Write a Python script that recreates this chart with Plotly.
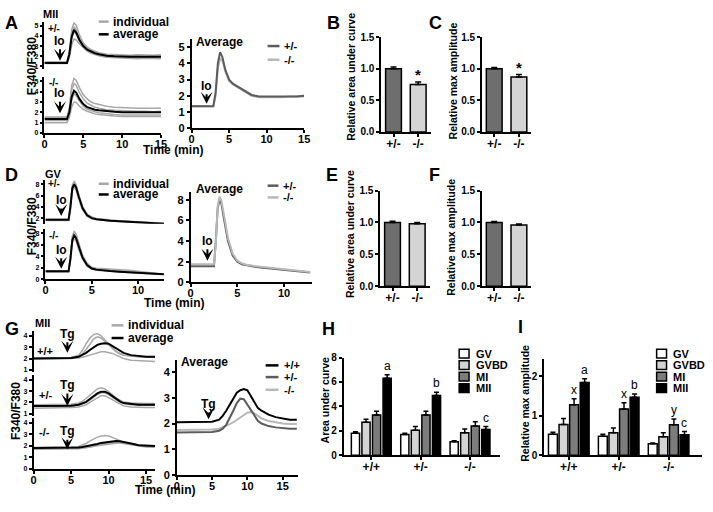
import plotly.graph_objects as go

W, H = 713, 512
FONT = "Liberation Sans"

# ---------------- data: panel A (MII, ionomycin) ----------------
tA = [0, 1, 2, 2.9, 3.2, 3.5, 3.8, 4.1, 4.5, 5, 5.5, 6, 6.5, 7, 8, 9, 10, 11, 12, 13, 14, 15]
A_het_avg = [1.35, 1.35, 1.35, 1.35, 2.2, 3.9, 4.6, 4.3, 3.6, 3.0, 2.65, 2.45, 2.3, 2.2, 2.05, 2.0, 1.95, 1.95, 1.95, 1.95, 1.95, 1.95]
A_het_ind = [
    [1.45, 1.45, 1.45, 1.45, 2.5, 4.6, 5.3, 5.0, 4.1, 3.3, 2.9, 2.65, 2.5, 2.35, 2.2, 2.15, 2.1, 2.1, 2.15, 2.1, 2.1, 2.15],
    [1.3, 1.3, 1.3, 1.3, 1.9, 3.1, 3.7, 3.6, 3.2, 2.8, 2.5, 2.3, 2.15, 2.05, 1.9, 1.85, 1.8, 1.8, 1.75, 1.8, 1.75, 1.75],
    [1.35, 1.4, 1.35, 1.35, 2.3, 4.2, 4.9, 4.6, 3.8, 3.1, 2.75, 2.5, 2.35, 2.25, 2.1, 2.05, 2.0, 2.0, 2.0, 1.95, 2.0, 2.0],
    [1.4, 1.4, 1.4, 1.45, 2.1, 3.8, 4.4, 4.2, 3.5, 2.95, 2.6, 2.4, 2.25, 2.15, 2.0, 1.95, 1.9, 1.9, 1.9, 1.9, 1.85, 1.9],
]
A_ko_avg = [1.35, 1.35, 1.35, 1.35, 2.0, 3.5, 4.1, 3.9, 3.3, 2.8, 2.5, 2.35, 2.25, 2.2, 2.1, 2.05, 2.0, 2.0, 2.0, 2.0, 2.0, 2.0]
A_ko_ind = [
    [1.55, 1.55, 1.55, 1.55, 2.4, 4.6, 5.3, 5.1, 4.4, 3.7, 3.3, 3.0, 2.85, 2.75, 2.6, 2.5, 2.45, 2.4, 2.4, 2.4, 2.4, 2.4],
    [1.5, 1.5, 1.5, 1.5, 2.3, 4.2, 4.8, 4.6, 3.9, 3.3, 2.9, 2.7, 2.5, 2.4, 2.25, 2.2, 2.15, 2.1, 2.1, 2.1, 2.05, 2.1],
    [1.0, 1.0, 1.0, 1.0, 1.5, 2.5, 3.0, 2.95, 2.6, 2.3, 2.1, 1.95, 1.85, 1.8, 1.7, 1.65, 1.6, 1.6, 1.6, 1.6, 1.55, 1.6],
    [1.2, 1.2, 1.2, 1.2, 1.8, 3.2, 3.8, 3.6, 3.1, 2.6, 2.3, 2.15, 2.05, 1.95, 1.85, 1.8, 1.75, 1.75, 1.75, 1.75, 1.7, 1.75],
]
A_mean_het = [1.35, 1.35, 1.35, 1.35, 2.2, 4.0, 4.7, 4.4, 3.6, 3.0, 2.75, 2.6, 2.45, 2.3, 2.05, 1.95, 1.95, 1.95, 1.95, 1.95, 1.95, 2.0]
A_mean_ko = [1.35, 1.35, 1.35, 1.35, 2.0, 3.7, 4.3, 4.2, 3.5, 2.9, 2.7, 2.55, 2.4, 2.25, 2.0, 1.9, 1.9, 1.9, 1.9, 1.95, 1.95, 1.95]

# ---------------- data: panel D (GV, ionomycin) ----------------
tD = [0, 1, 2, 2.5, 2.7, 2.9, 3.1, 3.3, 3.6, 4.0, 4.5, 5, 5.5, 6, 7, 8, 9, 10, 11, 12, 12.8]
D_het_avg = [1.7, 1.7, 1.7, 1.7, 4.0, 7.3, 8.0, 7.5, 5.8, 3.8, 2.5, 2.0, 1.8, 1.7, 1.55, 1.45, 1.35, 1.25, 1.15, 1.05, 1.0]
D_het_ind = [
    [1.8, 1.8, 1.8, 1.8, 4.6, 7.9, 8.5, 8.0, 6.2, 4.1, 2.7, 2.2, 1.95, 1.85, 1.7, 1.55, 1.45, 1.35, 1.25, 1.15, 1.1],
    [1.6, 1.6, 1.6, 1.6, 3.5, 6.8, 7.5, 7.0, 5.4, 3.5, 2.3, 1.9, 1.75, 1.65, 1.5, 1.4, 1.3, 1.2, 1.1, 1.0, 0.95],
    [1.7, 1.75, 1.7, 1.7, 4.2, 7.5, 8.2, 7.7, 6.0, 3.9, 2.6, 2.1, 1.85, 1.75, 1.6, 1.5, 1.4, 1.3, 1.2, 1.1, 1.05],
]
D_ko_avg = [1.4, 1.4, 1.4, 1.4, 3.6, 6.8, 7.6, 7.2, 5.7, 3.8, 2.5, 1.9, 1.7, 1.6, 1.45, 1.35, 1.25, 1.15, 1.05, 0.95, 0.9]
D_ko_ind = [
    [1.5, 1.5, 1.5, 1.5, 4.2, 7.5, 8.3, 7.9, 6.3, 4.2, 2.8, 2.1, 1.95, 1.9, 1.85, 1.8, 1.6, 1.4, 1.2, 1.05, 1.0],
    [1.3, 1.3, 1.3, 1.3, 3.2, 6.3, 7.0, 6.7, 5.2, 3.5, 2.3, 1.8, 1.6, 1.5, 1.4, 1.3, 1.2, 1.1, 1.0, 0.9, 0.85],
    [1.4, 1.45, 1.4, 1.4, 3.8, 7.1, 7.9, 7.5, 6.0, 4.0, 2.6, 2.0, 1.8, 1.75, 1.65, 1.55, 1.4, 1.25, 1.1, 1.0, 0.95],
]
D_mean_het = [1.55, 1.55, 1.55, 1.55, 4.0, 7.2, 8.0, 7.6, 6.0, 4.0, 2.6, 2.0, 1.75, 1.65, 1.5, 1.4, 1.3, 1.2, 1.1, 1.0, 0.95]
D_mean_ko = [1.75, 1.75, 1.75, 1.75, 3.8, 7.4, 8.3, 7.9, 6.4, 4.3, 2.8, 2.1, 1.85, 1.7, 1.55, 1.45, 1.35, 1.25, 1.15, 1.05, 1.0]

# ---------------- data: panel G (MII, thapsigargin) ----------------
tG = [0, 1, 2, 3, 4, 5, 6, 6.5, 7, 7.5, 8, 8.5, 9, 9.5, 10, 10.5, 11, 11.5, 12, 13, 14, 15, 16.2]
G_wt_avg = [2.0, 2.0, 2.0, 2.0, 2.0, 2.05, 2.15, 2.3, 2.5, 2.75, 3.0, 3.2, 3.3, 3.35, 3.3, 3.1, 2.9, 2.7, 2.5, 2.3, 2.2, 2.15, 2.15]
G_wt_ind = [
    [2.05, 2.05, 2.05, 2.05, 2.05, 2.1, 2.3, 2.7, 3.3, 3.8, 4.1, 4.2, 4.0, 3.6, 3.2, 2.9, 2.6, 2.4, 2.3, 2.2, 2.15, 2.15, 2.15],
    [2.0, 2.0, 2.0, 2.0, 2.0, 2.05, 2.2, 2.4, 2.8, 3.3, 3.7, 3.9, 3.8, 3.5, 3.2, 2.9, 2.65, 2.45, 2.3, 2.2, 2.15, 2.1, 2.1],
    [1.95, 1.95, 1.95, 1.95, 1.95, 2.0, 2.05, 2.1, 2.2, 2.3, 2.4, 2.5, 2.6, 2.6, 2.55, 2.45, 2.3, 2.15, 2.0, 1.85, 1.8, 1.75, 1.75],
]
G_het_avg = [1.7, 1.7, 1.7, 1.7, 1.7, 1.72, 1.8, 1.9, 2.05, 2.3, 2.55, 2.8, 2.95, 2.95, 2.8, 2.55, 2.3, 2.1, 1.95, 1.85, 1.8, 1.8, 1.8]
G_het_ind = [
    [1.8, 1.8, 1.8, 1.8, 1.8, 1.85, 1.95, 2.1, 2.35, 2.65, 2.95, 3.2, 3.3, 3.2, 2.95, 2.65, 2.4, 2.2, 2.05, 1.95, 1.9, 1.9, 1.9],
    [1.5, 1.5, 1.5, 1.5, 1.5, 1.55, 1.6, 1.7, 1.8, 2.0, 2.2, 2.45, 2.6, 2.6, 2.45, 2.25, 2.05, 1.85, 1.7, 1.6, 1.55, 1.55, 1.55],
    [1.65, 1.65, 1.65, 1.65, 1.65, 1.7, 1.75, 1.85, 2.0, 2.2, 2.45, 2.7, 2.85, 2.85, 2.7, 2.45, 2.25, 2.05, 1.9, 1.8, 1.75, 1.75, 1.75],
]
G_ko_avg = [1.8, 1.8, 1.8, 1.8, 1.8, 1.82, 1.85, 1.9, 1.95, 2.0, 2.08, 2.15, 2.25, 2.3, 2.35, 2.4, 2.42, 2.4, 2.35, 2.2, 2.05, 2.0, 1.98]
G_ko_ind = [
    [1.85, 1.85, 1.85, 1.85, 1.85, 1.9, 1.95, 2.05, 2.2, 2.4, 2.6, 2.75, 2.85, 2.9, 2.85, 2.75, 2.6, 2.45, 2.3, 2.15, 2.05, 2.0, 2.0],
    [1.75, 1.75, 1.75, 1.75, 1.75, 1.78, 1.8, 1.82, 1.85, 1.9, 1.95, 2.0, 2.05, 2.1, 2.15, 2.2, 2.25, 2.3, 2.3, 2.2, 2.05, 1.95, 1.9],
    [1.7, 1.7, 1.7, 1.7, 1.7, 1.72, 1.75, 1.78, 1.82, 1.88, 1.95, 2.05, 2.15, 2.2, 2.25, 2.3, 2.3, 2.25, 2.2, 2.05, 1.95, 1.9, 1.9],
]
tGa = [0, 1, 2, 3, 4, 5, 6, 6.5, 7, 7.5, 8, 8.5, 9, 9.5, 10, 10.5, 11, 11.5, 12, 13, 14, 15, 16, 17]
G_mean_wt = [2.05, 2.05, 2.05, 2.05, 2.05, 2.07, 2.15, 2.3, 2.5, 2.75, 3.0, 3.2, 3.3, 3.35, 3.3, 3.05, 2.8, 2.6, 2.5, 2.35, 2.25, 2.2, 2.15, 2.15]
G_mean_het = [1.65, 1.65, 1.65, 1.65, 1.65, 1.67, 1.72, 1.8, 1.95, 2.2, 2.5, 2.8, 2.97, 2.95, 2.75, 2.5, 2.3, 2.1, 2.0, 1.9, 1.85, 1.82, 1.8, 1.8]
G_mean_ko = [1.75, 1.75, 1.75, 1.75, 1.75, 1.77, 1.8, 1.85, 1.9, 1.98, 2.05, 2.15, 2.25, 2.35, 2.42, 2.45, 2.4, 2.3, 2.2, 2.1, 2.05, 2.0, 1.98, 1.98]

# ---------------- data: bar panels ----------------
geno2 = ["+/-", "-/-"]
B_vals, B_err, B_sig = [1.0, 0.75], [0.03, 0.04], ["", "*"]
C_vals, C_err, C_sig = [1.0, 0.87], [0.02, 0.04], ["", "*"]
E_vals, E_err = [1.0, 0.98], [0.02, 0.02]
F_vals, F_err = [1.0, 0.96], [0.015, 0.015]

geno3 = ["+/+", "+/-", "-/-"]
stages = ["GV", "GVBD", "MI", "MII"]
H_vals = [[1.8, 1.7, 1.1], [2.7, 2.05, 1.85], [3.3, 3.3, 2.4], [6.3, 4.9, 2.1]]
H_err = [[0.12, 0.1, 0.08], [0.25, 0.3, 0.3], [0.3, 0.3, 0.35], [0.3, 0.25, 0.25]]
H_sig = [["", "", ""], ["", "", ""], ["", "", ""], ["a", "b", "c"]]
I_vals = [[0.53, 0.48, 0.29], [0.78, 0.57, 0.47], [1.28, 1.17, 0.77], [1.84, 1.47, 0.52]]
I_err = [[0.05, 0.05, 0.02], [0.15, 0.12, 0.1], [0.15, 0.16, 0.15], [0.1, 0.08, 0.08]]
I_sig = [["", "", ""], ["", "", ""], ["x", "x", "y"], ["a", "b", "c"]]

# ---------------- styles ----------------
IND = "#a8a8a8"
AVG = "black"
DARK = "#5c5c5c"
LIGHT = "#b8b8b8"
BAR2 = ["#6e6e6e", "#d4d4d4"]
STAGE_COL = ["white", "#d4d4d4", "#7c7c7c", "black"]

fig = go.Figure()
layout = dict(width=W, height=H, margin=dict(l=0, r=0, t=0, b=0),
              paper_bgcolor="white", plot_bgcolor="white", showlegend=False,
              barmode="overlay", font=dict(family=FONT, color="black"))
annotations = []
shapes = []


def px(x):
    return x / W


def py(y):
    return 1 - y / H


_n = [0]


def axis(d, rng, anchor, show, tickvals=None, size=10, ticktext=None, fmt=None, is_x=False):
    a = dict(domain=d, range=rng, anchor=anchor, showgrid=False, zeroline=False, fixedrange=True)
    if not show:
        a.update(showline=False, showticklabels=False, ticks="")
        return a
    a.update(showline=True, linecolor="black", linewidth=1.5, ticks="outside", ticklen=3,
             tickwidth=1.5, tickcolor="black", tickvals=tickvals,
             tickfont=dict(family=FONT, size=size, color="black", weight="bold"))
    if is_x:
        a["ticklabelstandoff"] = -3
    if ticktext is not None:
        a["ticktext"] = ticktext
    if fmt:
        a["tickformat"] = fmt
    return a


def new_axes(xpx, ypx, xr, yr, xshow=True, xt=None, yt=None, xs=10, ys=10, xtt=None, ytt=None, yfmt=None):
    _n[0] += 1
    i = _n[0]
    s = "" if i == 1 else str(i)
    layout["xaxis" + s] = axis([px(xpx[0]), px(xpx[1])], xr, "y" + s, xshow, xt, xs, xtt, is_x=True)
    layout["yaxis" + s] = axis([py(ypx[1]), py(ypx[0])], yr, "x" + s, True, yt, ys, ytt, yfmt)
    return "x" + s, "y" + s


def line(xa, ya, t, v, color, width=1.5):
    fig.add_trace(go.Scatter(x=t, y=v, mode="lines", line=dict(color=color, width=width),
                             xaxis=xa, yaxis=ya, hoverinfo="skip"))


def text(x, y, s, size=12, bold=True, xanchor="center", angle=0):
    annotations.append(dict(x=px(x), y=py(y), xref="paper", yref="paper", text=s, showarrow=False,
                            xanchor=xanchor, yanchor="middle", textangle=angle,
                            font=dict(family=FONT, size=size, color="black",
                                      weight="bold" if bold else "normal")))


def arrow(xa, ya, x, y, label, ay):
    annotations.append(dict(x=x, y=y, xref=xa, yref=ya, text=label, showarrow=True, ax=0, ay=ay,
                            arrowhead=3, arrowsize=1, arrowwidth=2, arrowcolor="black", standoff=0,
                            font=dict(family=FONT, size=12, color="black", weight="bold")))


def swatch_line(x0, x1, y, color, width=2.5):
    shapes.append(dict(type="line", xref="paper", yref="paper", x0=px(x0), x1=px(x1), y0=py(y), y1=py(y),
                       line=dict(color=color, width=width)))


def swatch_box(x0, y0, x1, y1, color):
    shapes.append(dict(type="rect", xref="paper", yref="paper", x0=px(x0), x1=px(x1), y0=py(y1), y1=py(y0),
                       fillcolor=color, line=dict(color="black", width=1.5)))


# ---------------- panel A ----------------
xa, ya = new_axes((42, 160), (16, 64), [0, 15], [0.8, 5.4], xshow=False, yt=[1, 2, 3, 4, 5], ys=7)
for v in A_het_ind:
    line(xa, ya, tA, v, IND)
line(xa, ya, tA, A_het_avg, AVG, 2)
arrow(xa, ya, 2, 1.55, "Io", -20)
xa, ya = new_axes((42, 160), (73, 130), [0, 15], [0, 5.4], xt=[0, 5, 10, 15], yt=[0, 1, 2, 3, 4, 5], xs=11, ys=7)
for v in A_ko_ind:
    line(xa, ya, tA, v, IND)
line(xa, ya, tA, A_ko_avg, AVG, 2)
arrow(xa, ya, 2, 1.9, "Io", -20)
xa, ya = new_axes((191, 305), (34, 125), [0, 15], [0, 5.5], xt=[0, 5, 10, 15], yt=[0, 1, 2, 3, 4, 5], xs=11, ys=11)
line(xa, ya, tA, A_mean_ko, LIGHT, 2)
line(xa, ya, tA, A_mean_het, DARK, 2)
arrow(xa, ya, 2, 1.5, "Io", -18)

text(9, 17, "A", 18)
text(48, 8, "MII", 11)
text(52, 23, "+/-", 10)
text(51, 78, "-/-", 10)
text(29, 62, "F340/F380", 12, angle=-90)
text(172, 147, "Time (min)", 12)
swatch_line(97, 107, 16, IND)
text(109, 16, "individual", 12, xanchor="left")
swatch_line(97, 107, 29, AVG)
text(109, 29, "average", 12, xanchor="left")
text(193, 37, "Average", 12, xanchor="left")
swatch_line(268, 280, 41, DARK)
text(283, 41, "+/-", 11, xanchor="left")
swatch_line(268, 280, 55, LIGHT)
text(283, 55, "-/-", 11, xanchor="left")


# ---------------- bar panels B, C, E, F ----------------
def bar2(xpx, ypx, vals, err, sig, letter, lpos, ylabel, ylpos):
    xa, ya = new_axes(xpx, ypx, [-0.5, 1.5], [0, 1.5], xt=[0, 1], xtt=geno2, yt=[0, 0.5, 1.0, 1.5],
                      xs=12, ys=10, yfmt=".1f")
    fig.add_trace(go.Bar(x=[0, 1], y=vals, width=0.64, xaxis=xa, yaxis=ya, hoverinfo="skip",
                         marker=dict(color=BAR2, line=dict(color="black", width=1.5)),
                         error_y=dict(type="data", array=err, arrayminus=[0] * len(err), symmetric=False,
                                      color="black", thickness=1.5, width=3)))
    if sig:
        for i, s in enumerate(sig):
            if s:
                annotations.append(dict(x=i, y=vals[i] + err[i], xref=xa, yref=ya, text=s, showarrow=False,
                                        yanchor="bottom", yshift=-3,
                                        font=dict(family=FONT, size=15, color="black", weight="bold")))
    text(lpos[0], lpos[1], letter, 18)
    text(ylpos[0], ylpos[1], ylabel, 10.5, angle=-90)


bar2((383, 433), (32, 129), B_vals, B_err, B_sig, "B", (335, 17), "Relative area under curve", (353, 73))
bar2((485, 535), (32, 129), C_vals, C_err, C_sig, "C", (438, 17), "Relative max amplitude", (456, 77))
bar2((382, 432), (189, 287), E_vals, E_err, None, "E", (333, 173), "Relative area under curve", (351, 234))
bar2((485, 535), (189, 287), F_vals, F_err, None, "F", (437, 173), "Relative max amplitude", (454, 237))

# ---------------- panel D ----------------
xa, ya = new_axes((43, 163), (178, 223), [0, 12.8], [1, 8.8], xshow=False, yt=[2, 4, 6, 8], ys=7)
for v in D_het_ind:
    line(xa, ya, tD, v, IND)
line(xa, ya, tD, D_het_avg, AVG, 2)
arrow(xa, ya, 1.7, 2.4, "Io", -16)
xa, ya = new_axes((43, 163), (228, 280), [0, 12.8], [0, 8.8], xt=[0, 5, 10], yt=[0, 2, 4, 6, 8], xs=11, ys=7)
for v in D_ko_ind:
    line(xa, ya, tD, v, IND)
line(xa, ya, tD, D_ko_avg, AVG, 2)
arrow(xa, ya, 1.7, 1.86, "Io", -19)
xa, ya = new_axes((190, 313), (190, 283), [0, 13], [0, 8.8], xt=[0, 5, 10], yt=[0, 2, 4, 6, 8], xs=11, ys=11)
line(xa, ya, tD, D_mean_het, DARK, 2)
line(xa, ya, tD, D_mean_ko, LIGHT, 2)
arrow(xa, ya, 1.8, 2.1, "Io", -20)

text(9, 173, "D", 18)
text(51, 172, "GV", 11)
text(52, 182, "+/-", 10)
text(51, 235, "-/-", 10)
text(29, 226, "F340/F380", 12, angle=-90)
text(173, 304, "Time (min)", 12)
swatch_line(97, 107, 182, IND)
text(109, 182, "individual", 12, xanchor="left")
swatch_line(97, 107, 193, AVG)
text(109, 193, "average", 12, xanchor="left")
text(193, 187, "Average", 12, xanchor="left")
swatch_line(268, 279, 184, DARK)
text(282, 184, "+/-", 11, xanchor="left")
swatch_line(268, 279, 196, LIGHT)
text(282, 196, "-/-", 11, xanchor="left")

# ---------------- panel G ----------------
xa, ya = new_axes((31, 154), (333, 375), [0, 16.2], [0.8, 4.4], xshow=False, yt=[1, 2, 3, 4], ys=7)
for v in G_wt_ind:
    line(xa, ya, tG, v, IND)
line(xa, ya, tG, G_wt_avg, AVG, 2)
arrow(xa, ya, 4.5, 2.5, "Tg", -19)
xa, ya = new_axes((31, 154), (378, 420), [0, 16.2], [0.8, 4.4], xshow=False, yt=[1, 2, 3, 4], ys=7)
for v in G_het_ind:
    line(xa, ya, tG, v, IND)
line(xa, ya, tG, G_het_avg, AVG, 2)
arrow(xa, ya, 4.5, 1.7, "Tg", -21)
xa, ya = new_axes((31, 154), (422, 474), [0, 16.2], [0, 4.4], xt=[0, 5, 10, 15], yt=[0, 1, 2, 3, 4], xs=11, ys=7)
for v in G_ko_ind:
    line(xa, ya, tG, v, IND)
line(xa, ya, tG, G_ko_avg, AVG, 2)
arrow(xa, ya, 4.5, 1.7, "Tg", -18)
xa, ya = new_axes((176, 299), (362, 480), [0, 17.2], [0, 4.5], xt=[0, 5, 10, 15], yt=[0, 1, 2, 3, 4], xs=11, ys=11)
line(xa, ya, tGa, G_mean_ko, LIGHT, 2)
line(xa, ya, tGa, G_mean_het, DARK, 2)
line(xa, ya, tGa, G_mean_wt, AVG, 2)
arrow(xa, ya, 4.5, 2.17, "Tg", -15)

text(9, 331, "G", 18)
text(40, 325, "MII", 11)
text(43, 353, "+/+", 11)
text(43, 398, "+/-", 11)
text(42, 436, "-/-", 11)
text(13, 415, "F340/F380", 12, angle=-90)
text(164, 496, "Time (min)", 12)
swatch_line(110, 122, 327, IND)
text(125, 327, "individual", 12, xanchor="left")
swatch_line(110, 122, 340, AVG)
text(125, 340, "average", 12, xanchor="left")
text(178, 365, "Average", 12, xanchor="left")
swatch_line(266, 279, 368, AVG)
text(283, 368, "+/+", 11, xanchor="left")
swatch_line(266, 279, 380, DARK)
text(283, 380, "+/-", 11, xanchor="left")
swatch_line(266, 279, 393, LIGHT)
text(283, 393, "-/-", 11, xanchor="left")


# ---------------- panels H, I ----------------
def bar4(xpx, ypx, xr, yr, yt, vals, err, sig, slot, bw, letter, lpos, ylabel, ylpos, legx):
    xa, ya = new_axes(xpx, ypx, xr, yr, xt=[0, 1, 2], xtt=geno3, yt=yt, xs=12, ys=10)
    for k in range(4):
        xs = [g + (k - 1.5) * slot for g in range(3)]
        fig.add_trace(go.Bar(x=xs, y=vals[k], width=bw, xaxis=xa, yaxis=ya, hoverinfo="skip",
                             marker=dict(color=STAGE_COL[k], line=dict(color="black", width=1.5)),
                             error_y=dict(type="data", array=err[k], arrayminus=[0, 0, 0], symmetric=False,
                                          color="black", thickness=1.5, width=2.5)))
        for g in range(3):
            if sig[k][g]:
                annotations.append(dict(x=xs[g], y=vals[k][g] + err[k][g], xref=xa, yref=ya, text=sig[k][g],
                                        showarrow=False, yanchor="bottom", yshift=0,
                                        font=dict(family=FONT, size=12, color="black")))
    text(lpos[0], lpos[1], letter, 18)
    text(ylpos[0], ylpos[1], ylabel, 10.5, angle=-90)
    for k, st in enumerate(stages):
        yc = 356 + k * 11.8
        swatch_box(legx, yc - 4.5, legx + 10, yc + 4.5, STAGE_COL[k])
        text(legx + 15, yc, st, 11, xanchor="left")


bar4((345, 503), (360, 460), [-0.56, 2.6], [0, 8], [0, 2, 4, 6, 8], H_vals, H_err, H_sig, 0.214, 0.166,
     "H", (330, 331), "Area under curve", (326, 403), 462)
bar4((548, 708), (361, 460), [-0.495, 2.67], [0, 2.45], [0, 1, 2], I_vals, I_err, I_sig, 0.212, 0.178,
     "I", (524, 329), "Relative max amplitude", (529, 407), 662)

layout["annotations"] = annotations
layout["shapes"] = shapes
fig.update_layout(**layout)
fig.write_html("out.html", config={"displayModeBar": False, "responsive": False},
               post_script="document.body.style.margin='0px';document.body.style.padding='0px';"
                           "document.documentElement.style.overflow='hidden';")
